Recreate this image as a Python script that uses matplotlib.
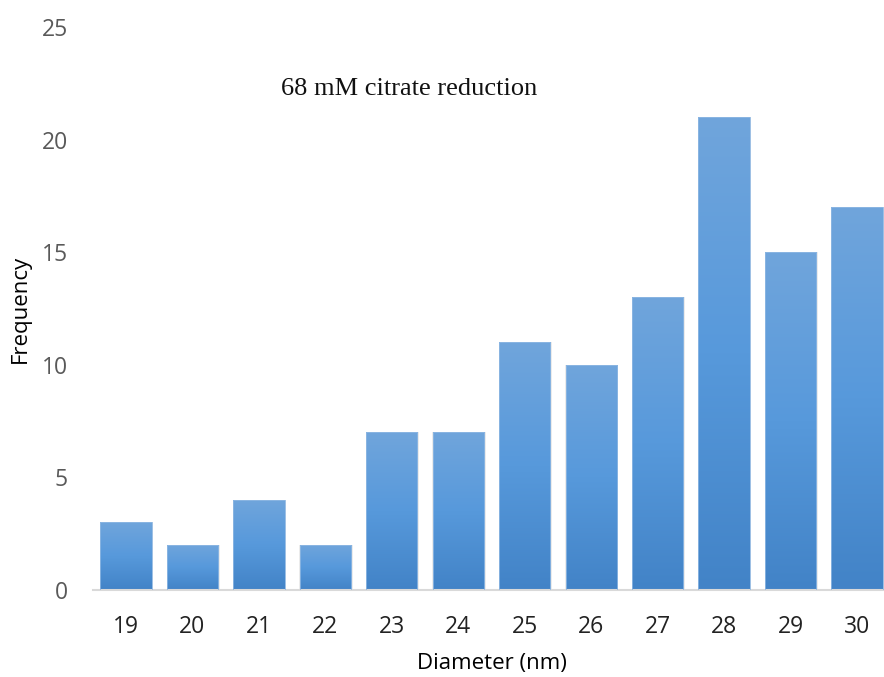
import numpy as np
import matplotlib
matplotlib.use("Agg")
from matplotlib import pyplot as plt
from matplotlib.colors import LinearSegmentedColormap

# data
diameters = ["19", "20", "21", "22", "23", "24", "25", "26", "27", "28", "29", "30"]
frequency = [3, 2, 4, 2, 7, 7, 11, 10, 13, 21, 15, 17]
title = "68 mM citrate reduction"

fig = plt.figure(figsize=(8.84, 6.77), dpi=100)
ax = fig.add_axes([0.105, 0.1285, 0.902, 0.831])

x = np.arange(len(diameters))
width = 0.77

# faint shadow behind the bars
ax.bar(x + 0.01, frequency, width=width + 0.03, color="#d8d8d8", alpha=0.5,
       edgecolor="none", zorder=1)
bars = ax.bar(x, frequency, width=width, color="none", edgecolor="#8fb8e3",
              linewidth=0.6, zorder=3)

# vertical gradient inside each bar (light at the top, darker at the bottom)
cmap = LinearSegmentedColormap.from_list("bar", ["#4283c7", "#5799db", "#70a5dc"])
grad = np.linspace(0, 1, 256).reshape(-1, 1)
for b in bars:
    x0, y0 = b.get_x(), b.get_y()
    im = ax.imshow(grad, cmap=cmap, origin="lower", aspect="auto",
                   extent=[x0, x0 + b.get_width(), y0, y0 + b.get_height()],
                   zorder=2)
    im.set_clip_path(b)

ax.set_xlim(-0.5, len(diameters) - 0.5)
ax.set_ylim(0, 25)
ax.set_xticks(x)
ax.set_xticklabels(diameters)
ax.set_yticks(np.arange(0, 26, 5))

for s in ["top", "right", "left"]:
    ax.spines[s].set_visible(False)
ax.spines["bottom"].set_color("#d9d9d9")
ax.spines["bottom"].set_linewidth(1.5)
ax.tick_params(axis="both", length=0)
ax.tick_params(axis="x", labelsize=16.5, colors="#222222", pad=18)
ax.tick_params(axis="y", labelsize=16.5, colors="#595959", pad=18)
for lbl in ax.get_xticklabels() + ax.get_yticklabels():
    lbl.set_fontfamily("Open Sans")

ax.set_xlabel("Diameter (nm)", fontsize=16, family="Open Sans", labelpad=10)
ax.set_ylabel("Frequency", fontsize=16, family="Open Sans", labelpad=8)

ax.text(0.397, 0.89, title, transform=ax.transAxes, ha="center", va="center",
        fontsize=19, family="Liberation Serif", color="#111111")

fig.savefig("out.png", dpi=100)
